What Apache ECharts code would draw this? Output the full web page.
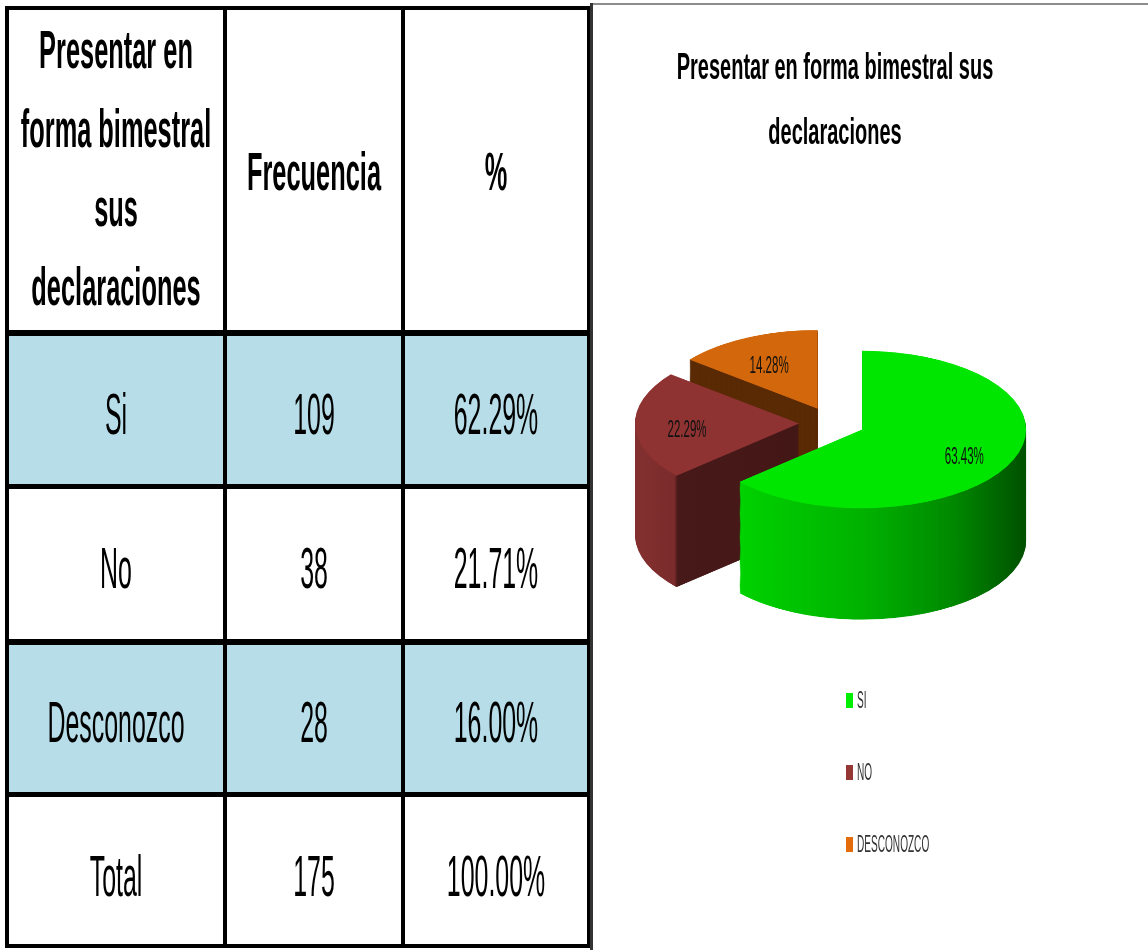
<!DOCTYPE html>
<html>
<head>
<meta charset="utf-8">
<title>Presentar en forma bimestral sus declaraciones</title>
<script src="https://cdn.jsdelivr.net/npm/echarts@6/dist/echarts.min.js"></script>
<style>
  html, body { margin: 0; padding: 0; background: #fff; }
  #wrap { position: relative; width: 1148px; height: 950px; overflow: hidden; }
  /* pie is drawn flat and squashed to look tilted */
  #pie { position: absolute; left: 582px; top: 303px; width: 500px; height: 700px; transform: scaleY(0.48); transform-origin: 0 0; }
  #main { position: absolute; left: 0; top: 0; width: 1148px; height: 950px; }
</style>
</head>
<body>
<div id="wrap">
  <div id="pie"></div>
  <div id="main"></div>
</div>
<script>
// table data
const headerLabels = ['Presentar en\nforma bimestral\nsus\ndeclaraciones', 'Frecuencia', '%']
const categories = ['Si', 'No', 'Desconozco', 'Total']
const frequencies = [109, 38, 28, 175]
const percents = [62.29, 21.71, 16.00, 100.00]

// pie data (values as printed on the chart)
const chartTitle = 'Presentar en forma bimestral sus\ndeclaraciones'
const pieNames = ['SI', 'NO', 'DESCONOZCO']
const pieValues = [63.43, 22.29, 14.28]

const FONT = '"Liberation Sans", Arial, sans-serif'
const SQUASH = 0.48
const PIE_LEFT = 582
const PIE_TOP = 303
const RADIUS = 164
const DEPTH = 232
const STEP = 2
const OFFSET = 33
const LABEL_DIST = 112

const topColors = ['#00e600', '#8e3232', '#d2670b']
const legendColors = ['#00ee00', '#953735', '#e46c0a']
const sideColors = [
  new echarts.graphic.LinearGradient(128, 0, 414, 0, [
    { offset: 0, color: '#00d200' },
    { offset: 0.45, color: '#00b000' },
    { offset: 0.75, color: '#008800' },
    { offset: 1, color: '#005000' }
  ], true),
  new echarts.graphic.LinearGradient(86, 0, 250, 0, [
    { offset: 0, color: '#843030' },
    { offset: 0.24, color: '#7a2b2b' },
    { offset: 0.26, color: '#481919' },
    { offset: 1, color: '#441717' }
  ], true),
  '#592a04'
]

function pieLayer (dy, colors) {
  return {
    type: 'pie',
    center: [250, 250 + dy],
    radius: RADIUS,
    startAngle: 90,
    clockwise: true,
    selectedMode: 'multiple',
    selectedOffset: OFFSET,
    silent: true,
    label: { show: false },
    labelLine: { show: false },
    itemStyle: { borderWidth: 0 },
    data: pieNames.map((name, i) => ({
      name,
      value: pieValues[i],
      selected: true,
      itemStyle: { color: colors[i] }
    }))
  }
}

// stack darker copies under the top face to fake the 3D depth
const pieSeries = []
for (let dy = DEPTH; dy > 0; dy -= STEP) {
  pieSeries.push(pieLayer(dy, sideColors))
}
pieSeries.push(pieLayer(0, topColors))

const pieChart = echarts.init(document.getElementById('pie'))
pieChart.setOption({ animation: false, series: pieSeries })

// condensed text, like the narrow font of the original
function narrowText (text, x, y, size, scaleX, weight, color, align, lineHeight) {
  return {
    type: 'text',
    x,
    y,
    scaleX,
    style: {
      text,
      fill: color || '#000',
      font: (weight || 'normal') + ' ' + size + 'px ' + FONT,
      align: align || 'center',
      textAlign: align || 'center',
      verticalAlign: 'middle',
      textVerticalAlign: 'middle',
      lineHeight: lineHeight || size
    }
  }
}

function box (x, y, w, h, fill) {
  return { type: 'rect', shape: { x, y, width: w, height: h }, style: { fill } }
}

const colX = [5, 223, 401, 587]
const colW = [4, 4, 4, 4]
const rowY = [6, 330, 484, 639, 792, 944]
const rowH = [4, 6, 5, 6, 5, 4]
const colCenter = [116, 314, 496]
const rowCenter = [418, 572, 726, 880]
const blueRows = [0, 2]

const elements = []

// shaded rows
blueRows.forEach(r => {
  elements.push(box(colX[0], rowY[r + 1], colX[3] - colX[0], rowY[r + 2] - rowY[r + 1], '#b7dde8'))
})

// grid lines
colX.forEach((x, i) => elements.push(box(x, rowY[0], colW[i], rowY[5] + rowH[5] - rowY[0], '#000')))
rowY.forEach((y, i) => elements.push(box(colX[0], y, colX[3] + colW[3] - colX[0], rowH[i], '#000')))

// header
elements.push(narrowText(headerLabels[0], colCenter[0], 172, 54, 0.47, 'bold', '#000', 'center', 79))
elements.push(narrowText(headerLabels[1], colCenter[1], 175, 54, 0.47, 'bold'))
elements.push(narrowText(headerLabels[2], colCenter[2], 175, 54, 0.47, 'bold'))

// body
categories.forEach((c, i) => {
  elements.push(narrowText(c, colCenter[0], rowCenter[i], 58, 0.43))
  elements.push(narrowText(String(frequencies[i]), colCenter[1], rowCenter[i], 58, 0.43))
  elements.push(narrowText(percents[i].toFixed(2) + '%', colCenter[2], rowCenter[i], 58, 0.43))
})

// chart frame
elements.push(box(590, 3, 558, 2, '#8c8c8c'))
elements.push(box(590, 3, 3, 947, '#333'))

// chart title
elements.push(narrowText(chartTitle, 835, 101, 37, 0.54, 'bold', '#000', 'center', 65))

// slice labels, placed from the pie layout
const topData = pieChart.getModel().getSeriesByIndex(pieSeries.length - 1).getData()
pieValues.forEach((v, i) => {
  const l = topData.getItemLayout(i)
  const mid = (l.startAngle + l.endAngle) / 2
  const d = OFFSET + LABEL_DIST
  const x = PIE_LEFT + l.cx + Math.cos(mid) * d
  const y = PIE_TOP + (l.cy + Math.sin(mid) * d) * SQUASH
  elements.push(narrowText(v.toFixed(2) + '%', x, y + 6, 24, 0.48, 'normal', '#111'))
})

// legend
pieNames.forEach((name, i) => {
  elements.push(box(846, 693 + i * 72, 7, 15, legendColors[i]))
  elements.push(narrowText(name, 857, 701 + i * 72, 24, 0.42, 'normal', '#333', 'left'))
})

const chart = echarts.init(document.getElementById('main'))
chart.setOption({
  backgroundColor: 'transparent',
  animation: false,
  graphic: { elements }
})
</script>
</body>
</html>
